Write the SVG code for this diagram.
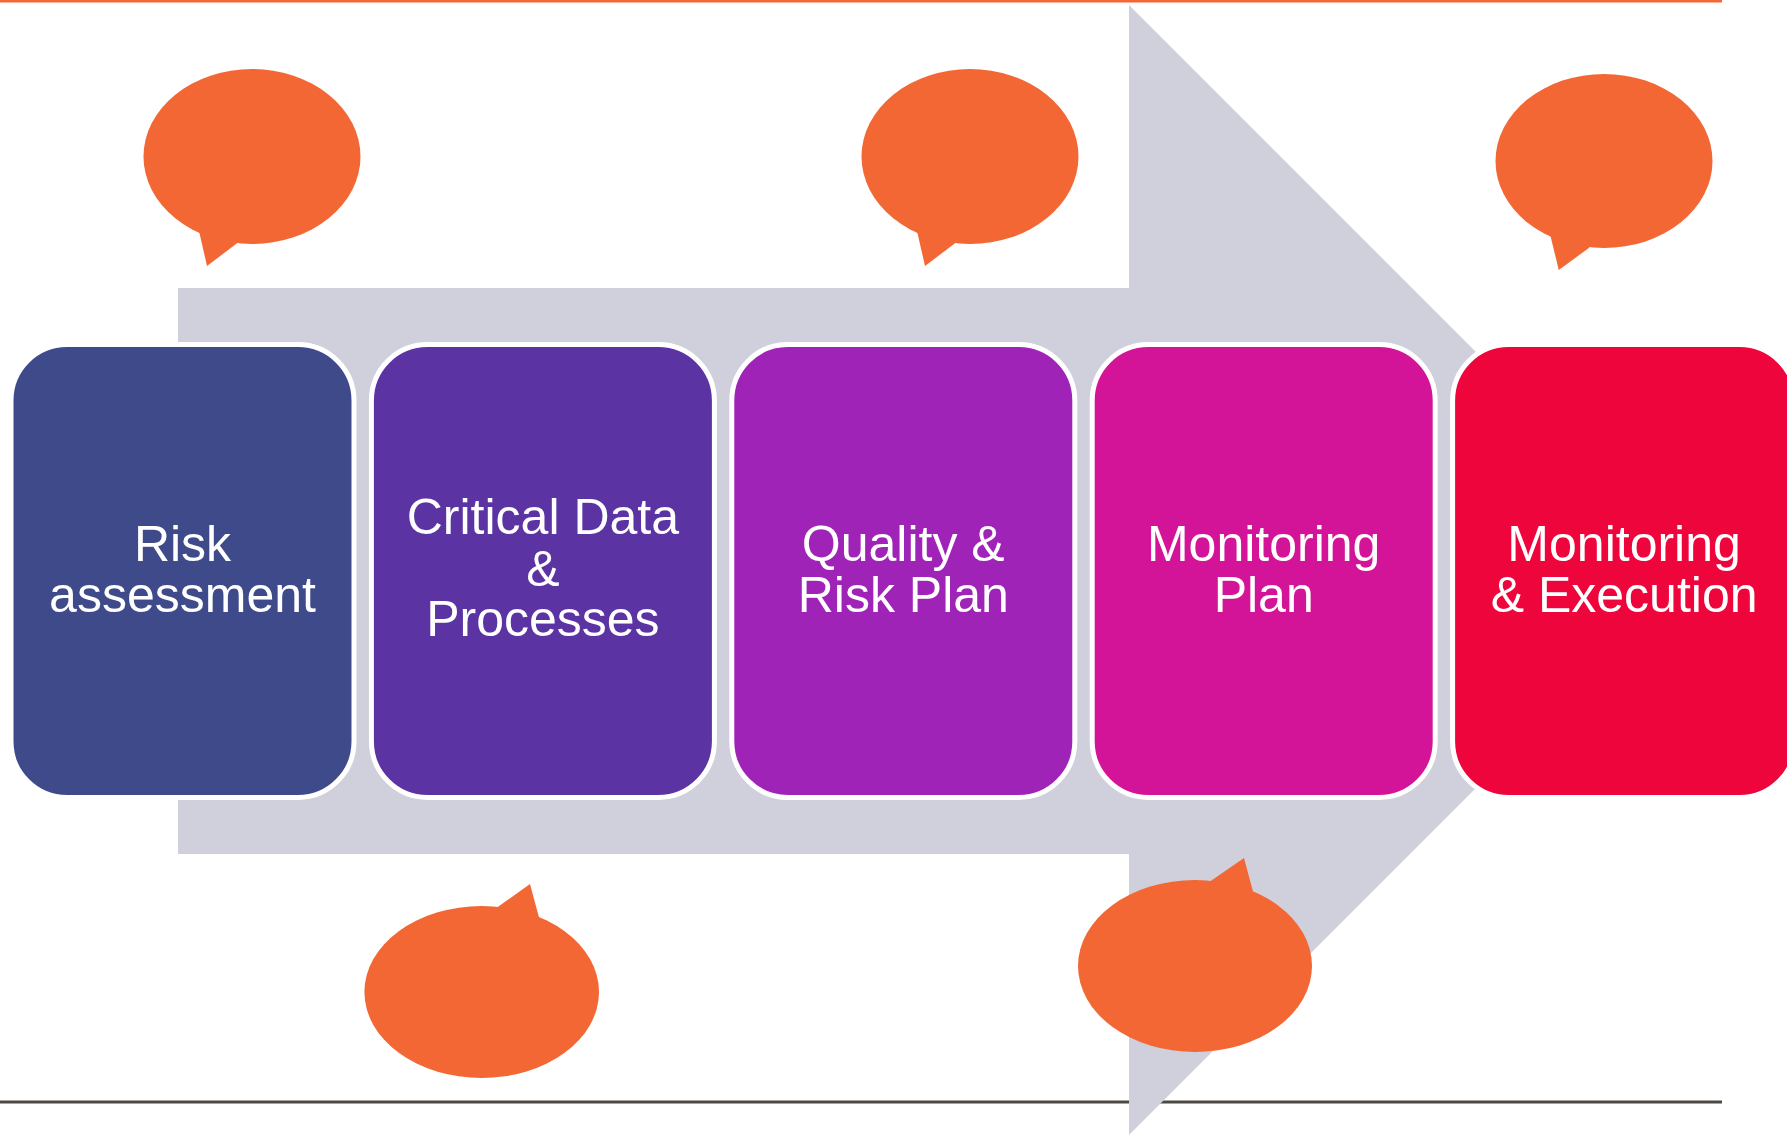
<svg xmlns="http://www.w3.org/2000/svg" width="1787" height="1135" viewBox="0 0 1787 1135">
  <style>
    .box { stroke: #ffffff; stroke-width: 5; }
    .lbl { font-family: "Liberation Sans", Arial, sans-serif; font-size: 50px; fill: #ffffff; text-anchor: middle; }
    .bubble { fill: #f36735; }
  </style>
  <rect width="1787" height="1135" fill="#ffffff"/>
  <g id="rules">
    <line x1="0" y1="1.2" x2="1722" y2="1.2" stroke="#f36735" stroke-width="2.8"/>
    <line x1="0" y1="1102" x2="1722" y2="1102" stroke="#4d4843" stroke-width="3"/>
  </g>
  <g id="connectors">
    <polygon id="process-arrow" points="178,288 1129,288 1129,5 1694,570 1129,1135 1129,854 178,854" fill="#d0d0dc"/>
  </g>
  <g id="node-risk-assessment">
    <rect class="box" x="11" y="344.5" width="343" height="453" rx="56" ry="56" fill="#3f4a8b"/>
    <text class="lbl" x="182.5" y="561">Risk</text>
    <text class="lbl" x="182.5" y="612">assessment</text>
  </g>
  <g id="node-critical-data">
    <rect class="box" x="371.4" y="344.5" width="343" height="453" rx="56" ry="56" fill="#5b33a2"/>
    <text class="lbl" x="542.9" y="533.5">Critical Data</text>
    <text class="lbl" x="542.9" y="586">&amp;</text>
    <text class="lbl" x="542.9" y="635.5">Processes</text>
  </g>
  <g id="node-quality-risk-plan">
    <rect class="box" x="731.8" y="344.5" width="343" height="453" rx="56" ry="56" fill="#a023b8"/>
    <text class="lbl" x="903.3" y="561">Quality &amp;</text>
    <text class="lbl" x="903.3" y="612">Risk Plan</text>
  </g>
  <g id="node-monitoring-plan">
    <rect class="box" x="1092.2" y="344.5" width="343" height="453" rx="56" ry="56" fill="#d41498"/>
    <text class="lbl" x="1263.7" y="561">Monitoring</text>
    <text class="lbl" x="1263.7" y="612">Plan</text>
  </g>
  <g id="node-monitoring-execution">
    <rect class="box" x="1452.6" y="344.5" width="343" height="453" rx="56" ry="56" fill="#ee053b"/>
    <text class="lbl" x="1624.1" y="561">Monitoring</text>
    <text class="lbl" x="1624.1" y="612">&amp; Execution</text>
  </g>
  <g id="bubble-top-1" class="bubble">
    <ellipse cx="252" cy="156.5" rx="108.5" ry="87.5"/>
    <polygon points="199,231 207,266 238,242.5 225,225"/>
  </g>
  <g id="bubble-top-2" class="bubble">
    <ellipse cx="970" cy="156.5" rx="108.5" ry="87.5"/>
    <polygon points="917,231 925,266 956,242.5 943,225"/>
  </g>
  <g id="bubble-top-3" class="bubble">
    <ellipse cx="1604" cy="161" rx="108.5" ry="87"/>
    <polygon points="1550.5,236 1558.8,270 1589.5,247.5 1575,230"/>
  </g>
  <g id="bubble-bottom-1" class="bubble">
    <ellipse cx="481.7" cy="992" rx="117.3" ry="86"/>
    <polygon points="497,907.5 530,884 539,917.5 515,930"/>
  </g>
  <g id="bubble-bottom-2" class="bubble">
    <ellipse cx="1195" cy="966" rx="117" ry="86"/>
    <polygon points="1210.7,881 1244,858 1253,891.5 1228,905"/>
  </g>
</svg>
